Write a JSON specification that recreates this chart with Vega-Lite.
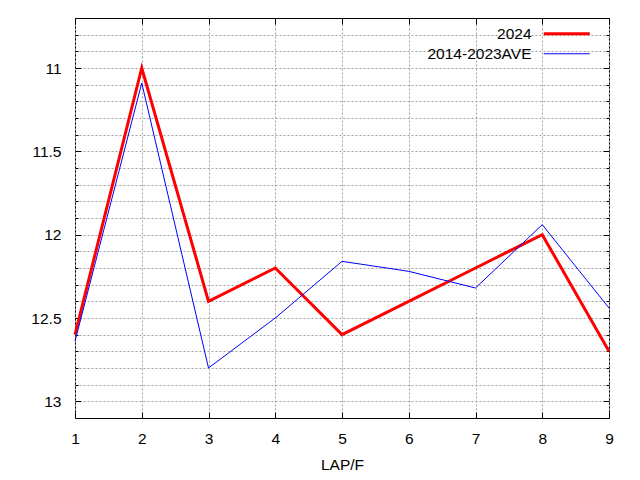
{
  "$schema": "https://vega.github.io/schema/vega-lite/v6.json",
  "width": 534,
  "height": 400,
  "autosize": {"type": "none"},
  "padding": {"left": 75, "top": 18, "right": 31, "bottom": 62},
  "background": "white",
  "config": {
    "view": {"stroke": "#000000", "strokeWidth": 1},
    "font": "Liberation Sans",
    "axis": {"domain": false, "tickColor": "#000000", "tickWidth": 1, "labelColor": "#000000", "labelFont": "Liberation Sans", "titleFont": "Liberation Sans", "titleColor": "#000000"}
  },
  "data": {
    "values": [
      {"lap": 1, "t": 12.6, "s": "2024"},
      {"lap": 2, "t": 11.0, "s": "2024"},
      {"lap": 3, "t": 12.4, "s": "2024"},
      {"lap": 4, "t": 12.2, "s": "2024"},
      {"lap": 5, "t": 12.6, "s": "2024"},
      {"lap": 6, "t": 12.4, "s": "2024"},
      {"lap": 7, "t": 12.2, "s": "2024"},
      {"lap": 8, "t": 12.0, "s": "2024"},
      {"lap": 9, "t": 12.7, "s": "2024"},
      {"lap": 1, "t": 12.64, "s": "2014-2023AVE"},
      {"lap": 2, "t": 11.09, "s": "2014-2023AVE"},
      {"lap": 3, "t": 12.80, "s": "2014-2023AVE"},
      {"lap": 4, "t": 12.50, "s": "2014-2023AVE"},
      {"lap": 5, "t": 12.16, "s": "2014-2023AVE"},
      {"lap": 6, "t": 12.22, "s": "2014-2023AVE"},
      {"lap": 7, "t": 12.32, "s": "2014-2023AVE"},
      {"lap": 8, "t": 11.94, "s": "2014-2023AVE"},
      {"lap": 9, "t": 12.44, "s": "2014-2023AVE"}
    ]
  },
  "resolve": {"axis": {"x": "independent", "y": "independent"}},
  "layer": [
    {
      "mark": {"type": "line", "strokeJoin": "miter"},
      "encoding": {
        "x": {
          "field": "lap", "type": "quantitative",
          "scale": {"domain": [1, 9], "nice": false, "zero": false},
          "axis": {
            "orient": "bottom",
            "values": [1, 2, 3, 4, 5, 6, 7, 8, 9],
            "title": "LAP/F",
            "titleFontSize": 15.5, "titleFontWeight": "normal", "titlePadding": 11,
            "labelFontSize": 15.5, "labelPadding": 19, "labelFlush": false,
            "grid": true, "gridDash": [2, 2], "gridColor": "#a0a0a0", "gridWidth": 1,
            "tickSize": -6
          }
        },
        "y": {
          "field": "t", "type": "quantitative",
          "scale": {"domain": [10.7, 13.1], "reverse": true, "nice": false, "zero": false},
          "axis": {
            "orient": "left",
            "values": [10.8, 10.9, 11.0, 11.1, 11.2, 11.3, 11.4, 11.5, 11.6, 11.7, 11.8, 11.9, 12.0, 12.1, 12.2, 12.3, 12.4, 12.5, 12.6, 12.7, 12.8, 12.9, 13.0],
            "title": null,
            "labelExpr": "abs(datum.value*2-round(datum.value*2))<0.001 ? format(datum.value,'~g') : ''",
            "labelFontSize": 15.5, "labelPadding": 20, "labelFlush": false,
            "grid": true, "gridDash": [2, 2], "gridColor": "#a0a0a0", "gridWidth": 1,
            "tickSize": {"condition": {"test": "abs(datum.value*2-round(datum.value*2))<0.001", "value": -6}, "value": -3}
          }
        },
        "color": {
          "field": "s", "type": "nominal",
          "scale": {"domain": ["2024", "2014-2023AVE"], "range": ["#ff0000", "#0000ff"]},
          "legend": {
            "orient": "none", "legendX": 461, "legendY": 8, "title": null,
            "symbolType": "M0,0h46", "symbolSize": 4,
            "labelAlign": "right", "labelOffset": -20, "labelFontSize": 15.5, "labelColor": "#000000",
            "padding": 0, "rowPadding": 3
          }
        },
        "strokeWidth": {
          "field": "s", "type": "nominal",
          "scale": {"domain": ["2024", "2014-2023AVE"], "range": [3, 1]},
          "legend": {
            "orient": "none", "legendX": 461, "legendY": 8, "title": null,
            "symbolType": "M0,0h46", "symbolSize": 4,
            "labelAlign": "right", "labelOffset": -20, "labelFontSize": 15.5, "labelColor": "#000000",
            "padding": 0, "rowPadding": 3
          }
        }
      }
    },
    {
      "mark": {"type": "line", "opacity": 0},
      "encoding": {
        "x": {
          "field": "lap", "type": "quantitative",
          "scale": {"domain": [1, 9], "nice": false, "zero": false},
          "axis": {"orient": "top", "values": [1, 2, 3, 4, 5, 6, 7, 8, 9], "title": null, "labels": false, "grid": false, "tickSize": -6}
        },
        "y": {
          "field": "t", "type": "quantitative",
          "scale": {"domain": [10.7, 13.1], "reverse": true, "nice": false, "zero": false},
          "axis": {
            "orient": "right",
            "values": [10.8, 10.9, 11.0, 11.1, 11.2, 11.3, 11.4, 11.5, 11.6, 11.7, 11.8, 11.9, 12.0, 12.1, 12.2, 12.3, 12.4, 12.5, 12.6, 12.7, 12.8, 12.9, 13.0],
            "title": null, "labels": false, "grid": false,
            "tickSize": {"condition": {"test": "abs(datum.value*2-round(datum.value*2))<0.001", "value": -6}, "value": -3}
          }
        },
        "detail": {"field": "s", "type": "nominal"}
      }
    }
  ]
}
